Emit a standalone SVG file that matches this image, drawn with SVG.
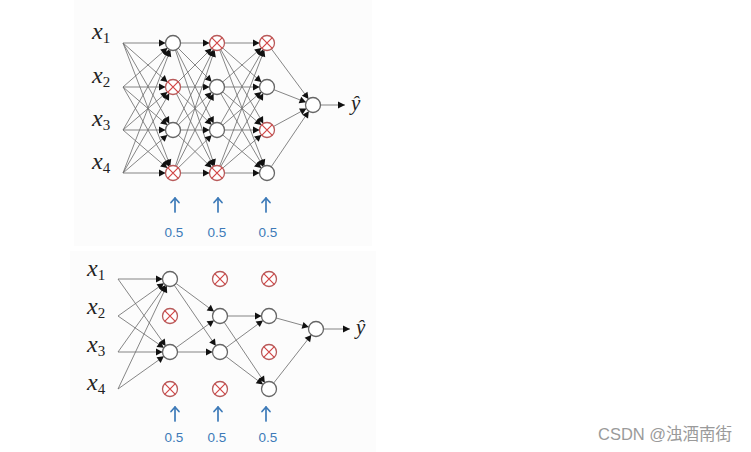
<svg xmlns="http://www.w3.org/2000/svg" width="751" height="452" viewBox="0 0 751 452">
<defs>
<marker id="ah" markerUnits="userSpaceOnUse" markerWidth="8" markerHeight="8" refX="14" refY="3.5" orient="auto" overflow="visible"><path d="M0,0 L6.5,3.5 L0,7 z" fill="#111"/></marker>
<marker id="tip" markerUnits="userSpaceOnUse" markerWidth="8" markerHeight="8" refX="7" refY="3.5" orient="auto" overflow="visible"><path d="M0,0 L7,3.5 L0,7 z" fill="#111"/></marker>
<marker id="blue" markerUnits="userSpaceOnUse" markerWidth="8" markerHeight="8" refX="0" refY="0" orient="auto" overflow="visible"><path d="M-4.5,-4 L0,0 L-4.5,4" fill="none" stroke="#3d7ab8" stroke-width="1.7" stroke-linecap="round" stroke-linejoin="round"/></marker>
</defs>
<style>
.c line{stroke:#707070;stroke-width:0.85}
.m{marker-end:url(#ah)}
.n circle{fill:#fff;stroke:#666;stroke-width:1.3}
.x circle{fill:#fff;stroke:#b85a5a;stroke-width:1.3}
.x path{stroke:#d24545;stroke-width:1.2;fill:none}
.lab{font-family:"Liberation Serif",serif;font-style:italic;font-size:24px;fill:#222}
.sub{font-size:15px;font-style:normal}
.kp line{stroke:#3d7ab8;stroke-width:1.7;stroke-linecap:round;marker-end:url(#blue)}
.kp text{font-family:"Liberation Sans",sans-serif;font-size:13.5px;fill:#3d7ab8;text-anchor:middle}
.wm{font-family:"Liberation Sans","Noto Sans CJK SC",sans-serif;font-size:16.5px;fill:#9a9a9a}
</style>
<rect width="751" height="452" fill="#fff"/>
<rect x="74" y="0" width="298" height="246" fill="#fcfcfc"/>
<rect x="70" y="251" width="306" height="201" fill="#fcfcfc"/>

<g id="connectors" class="c">
<line class="m" x1="123" y1="43" x2="173" y2="43"/><line class="m" x1="123" y1="43" x2="173" y2="87"/><line class="m" x1="123" y1="43" x2="173" y2="130"/><line class="m" x1="123" y1="43" x2="173" y2="173"/>
<line class="m" x1="123" y1="87" x2="173" y2="43"/><line class="m" x1="123" y1="87" x2="173" y2="87"/><line class="m" x1="123" y1="87" x2="173" y2="130"/><line class="m" x1="123" y1="87" x2="173" y2="173"/>
<line class="m" x1="123" y1="130" x2="173" y2="43"/><line class="m" x1="123" y1="130" x2="173" y2="87"/><line class="m" x1="123" y1="130" x2="173" y2="130"/><line class="m" x1="123" y1="130" x2="173" y2="173"/>
<line class="m" x1="123" y1="173" x2="173" y2="43"/><line class="m" x1="123" y1="173" x2="173" y2="87"/><line class="m" x1="123" y1="173" x2="173" y2="130"/><line class="m" x1="123" y1="173" x2="173" y2="173"/>
<line class="m" x1="173" y1="43" x2="217" y2="43"/><line class="m" x1="173" y1="43" x2="217" y2="87"/><line class="m" x1="173" y1="43" x2="217" y2="130"/><line class="m" x1="173" y1="43" x2="217" y2="173"/>
<line class="m" x1="173" y1="87" x2="217" y2="43"/><line class="m" x1="173" y1="87" x2="217" y2="87"/><line class="m" x1="173" y1="87" x2="217" y2="130"/><line class="m" x1="173" y1="87" x2="217" y2="173"/>
<line class="m" x1="173" y1="130" x2="217" y2="43"/><line class="m" x1="173" y1="130" x2="217" y2="87"/><line class="m" x1="173" y1="130" x2="217" y2="130"/><line class="m" x1="173" y1="130" x2="217" y2="173"/>
<line class="m" x1="173" y1="173" x2="217" y2="43"/><line class="m" x1="173" y1="173" x2="217" y2="87"/><line class="m" x1="173" y1="173" x2="217" y2="130"/><line class="m" x1="173" y1="173" x2="217" y2="173"/>
<line class="m" x1="217" y1="43" x2="267" y2="43"/><line class="m" x1="217" y1="43" x2="267" y2="87"/><line class="m" x1="217" y1="43" x2="267" y2="130"/><line class="m" x1="217" y1="43" x2="267" y2="173"/>
<line class="m" x1="217" y1="87" x2="267" y2="43"/><line class="m" x1="217" y1="87" x2="267" y2="87"/><line class="m" x1="217" y1="87" x2="267" y2="130"/><line class="m" x1="217" y1="87" x2="267" y2="173"/>
<line class="m" x1="217" y1="130" x2="267" y2="43"/><line class="m" x1="217" y1="130" x2="267" y2="87"/><line class="m" x1="217" y1="130" x2="267" y2="130"/><line class="m" x1="217" y1="130" x2="267" y2="173"/>
<line class="m" x1="217" y1="173" x2="267" y2="43"/><line class="m" x1="217" y1="173" x2="267" y2="87"/><line class="m" x1="217" y1="173" x2="267" y2="130"/><line class="m" x1="217" y1="173" x2="267" y2="173"/>
<line class="m" x1="267" y1="43" x2="313" y2="105"/><line class="m" x1="267" y1="87" x2="313" y2="105"/><line class="m" x1="267" y1="130" x2="313" y2="105"/><line class="m" x1="267" y1="173" x2="313" y2="105"/>
<line x1="321" y1="105" x2="345" y2="105" marker-end="url(#tip)"/>

<line class="m" x1="118" y1="279" x2="170" y2="279"/><line class="m" x1="118" y1="279" x2="170" y2="352"/>
<line class="m" x1="118" y1="316" x2="170" y2="279"/><line class="m" x1="118" y1="316" x2="170" y2="352"/>
<line class="m" x1="118" y1="352" x2="170" y2="279"/><line class="m" x1="118" y1="352" x2="170" y2="352"/>
<line class="m" x1="118" y1="389" x2="170" y2="279"/><line class="m" x1="118" y1="389" x2="170" y2="352"/>
<line class="m" x1="170" y1="279" x2="220" y2="316"/><line class="m" x1="170" y1="279" x2="220" y2="352"/>
<line class="m" x1="170" y1="352" x2="220" y2="316"/><line class="m" x1="170" y1="352" x2="220" y2="352"/>
<line class="m" x1="220" y1="316" x2="269" y2="316"/><line class="m" x1="220" y1="316" x2="269" y2="389"/>
<line class="m" x1="220" y1="352" x2="269" y2="316"/><line class="m" x1="220" y1="352" x2="269" y2="389"/>
<line class="m" x1="269" y1="316" x2="316" y2="329"/><line class="m" x1="269" y1="389" x2="316" y2="329"/>
<line x1="324" y1="329" x2="350" y2="329" marker-end="url(#tip)"/>
</g>

<g id="t_in" class="lab">
<text x="92" y="39">x<tspan class="sub" dy="4">1</tspan></text>
<text x="92" y="83">x<tspan class="sub" dy="4">2</tspan></text>
<text x="92" y="126">x<tspan class="sub" dy="4">3</tspan></text>
<text x="92" y="169">x<tspan class="sub" dy="4">4</tspan></text>
</g>
<g id="t_l1_1" class="n"><circle cx="173" cy="43" r="7.5"/></g>
<g id="t_l1_2" class="x"><circle cx="173" cy="87" r="7.5"/><path d="M167.7,81.7 L178.3,92.3 M178.3,81.7 L167.7,92.3"/></g>
<g id="t_l1_3" class="n"><circle cx="173" cy="130" r="7.5"/></g>
<g id="t_l1_4" class="x"><circle cx="173" cy="173" r="7.5"/><path d="M167.7,167.7 L178.3,178.3 M178.3,167.7 L167.7,178.3"/></g>
<g id="t_l2_1" class="x"><circle cx="217" cy="43" r="7.5"/><path d="M211.7,37.7 L222.3,48.3 M222.3,37.7 L211.7,48.3"/></g>
<g id="t_l2_2" class="n"><circle cx="217" cy="87" r="7.5"/></g>
<g id="t_l2_3" class="n"><circle cx="217" cy="130" r="7.5"/></g>
<g id="t_l2_4" class="x"><circle cx="217" cy="173" r="7.5"/><path d="M211.7,167.7 L222.3,178.3 M222.3,167.7 L211.7,178.3"/></g>
<g id="t_l3_1" class="x"><circle cx="267" cy="43" r="7.5"/><path d="M261.7,37.7 L272.3,48.3 M272.3,37.7 L261.7,48.3"/></g>
<g id="t_l3_2" class="n"><circle cx="267" cy="87" r="7.5"/></g>
<g id="t_l3_3" class="x"><circle cx="267" cy="130" r="7.5"/><path d="M261.7,124.7 L272.3,135.3 M272.3,124.7 L261.7,135.3"/></g>
<g id="t_l3_4" class="n"><circle cx="267" cy="173" r="7.5"/></g>
<g id="t_out" class="n"><circle cx="313" cy="105" r="7.5"/></g>
<g id="t_yhat" class="lab"><text x="351" y="110" style="font-size:21px">ŷ</text></g>
<g id="t_kp" class="kp">
<line x1="175" y1="212" x2="175" y2="198"/><text x="174" y="237">0.5</text>
<line x1="218" y1="212" x2="218" y2="198"/><text x="217" y="237">0.5</text>
<line x1="266" y1="212" x2="266" y2="198"/><text x="268" y="237">0.5</text>
</g>

<g id="b_in" class="lab">
<text x="87" y="276">x<tspan class="sub" dy="4">1</tspan></text>
<text x="87" y="314">x<tspan class="sub" dy="4">2</tspan></text>
<text x="87" y="352">x<tspan class="sub" dy="4">3</tspan></text>
<text x="87" y="390">x<tspan class="sub" dy="4">4</tspan></text>
</g>
<g id="b_l1_1" class="n"><circle cx="170" cy="279" r="7.5"/></g>
<g id="b_l1_2" class="x"><circle cx="170" cy="316" r="7.5"/><path d="M164.7,310.7 L175.3,321.3 M175.3,310.7 L164.7,321.3"/></g>
<g id="b_l1_3" class="n"><circle cx="170" cy="352" r="7.5"/></g>
<g id="b_l1_4" class="x"><circle cx="170" cy="389" r="7.5"/><path d="M164.7,383.7 L175.3,394.3 M175.3,383.7 L164.7,394.3"/></g>
<g id="b_l2_1" class="x"><circle cx="220" cy="279" r="7.5"/><path d="M214.7,273.7 L225.3,284.3 M225.3,273.7 L214.7,284.3"/></g>
<g id="b_l2_2" class="n"><circle cx="220" cy="316" r="7.5"/></g>
<g id="b_l2_3" class="n"><circle cx="220" cy="352" r="7.5"/></g>
<g id="b_l2_4" class="x"><circle cx="220" cy="389" r="7.5"/><path d="M214.7,383.7 L225.3,394.3 M225.3,383.7 L214.7,394.3"/></g>
<g id="b_l3_1" class="x"><circle cx="269" cy="279" r="7.5"/><path d="M263.7,273.7 L274.3,284.3 M274.3,273.7 L263.7,284.3"/></g>
<g id="b_l3_2" class="n"><circle cx="269" cy="316" r="7.5"/></g>
<g id="b_l3_3" class="x"><circle cx="269" cy="352" r="7.5"/><path d="M263.7,346.7 L274.3,357.3 M274.3,346.7 L263.7,357.3"/></g>
<g id="b_l3_4" class="n"><circle cx="269" cy="389" r="7.5"/></g>
<g id="b_out" class="n"><circle cx="316" cy="329" r="7.5"/></g>
<g id="b_yhat" class="lab"><text x="356" y="334" style="font-size:21px">ŷ</text></g>
<g id="b_kp" class="kp">
<line x1="175" y1="421" x2="175" y2="407"/><text x="174" y="442">0.5</text>
<line x1="218" y1="421" x2="218" y2="407"/><text x="217" y="442">0.5</text>
<line x1="266" y1="421" x2="266" y2="407"/><text x="268" y="442">0.5</text>
</g>

<text class="wm" x="598" y="440">CSDN @浊酒南街</text>
</svg>
